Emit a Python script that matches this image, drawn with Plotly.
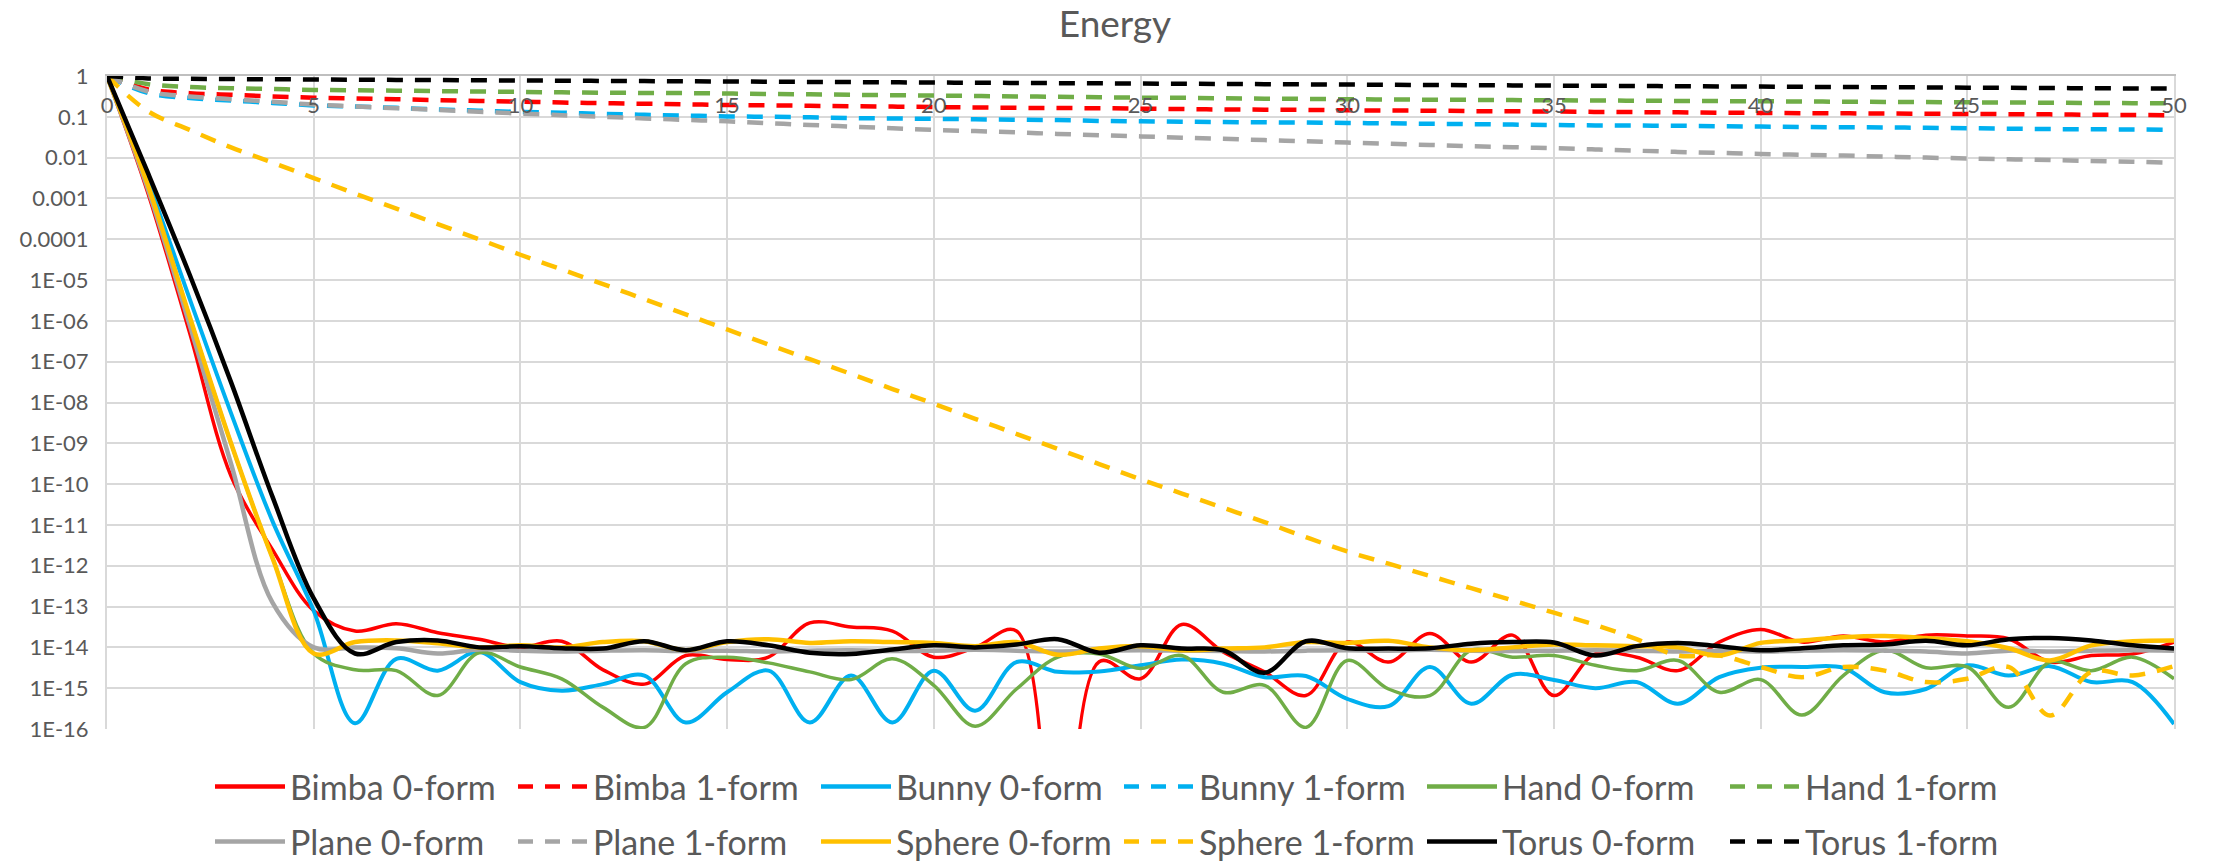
import plotly.graph_objects as go

# Iteration index
iterations = list(range(51))

# log10(Energy), per iteration 0..50
bimba_0form = [0, -2.9, -6.3, -9.8, -11.6, -13.1, -13.6, -13.42, -13.64, -13.8,
               -14.0, -13.85, -14.55, -14.9, -14.2, -14.3, -14.24, -13.4, -13.5, -13.6,
               -14.24, -14.0, -13.6, -40.0, -14.35, -14.77, -13.44, -14.11, -14.6, -15.18,
               -13.87, -14.36, -13.66, -14.36, -13.7, -15.18, -14.16, -14.24, -14.57, -13.87,
               -13.56, -13.87, -13.72, -13.87, -13.7, -13.72, -13.79, -14.36, -14.2, -14.16,
               -13.87]
bimba_1form = [0, -0.33, -0.42, -0.46, -0.5, -0.53, -0.55, -0.57, -0.59, -0.61,
               -0.63, -0.65, -0.665, -0.68, -0.695, -0.71, -0.72, -0.73, -0.74, -0.75,
               -0.76, -0.77, -0.78, -0.785, -0.79, -0.8, -0.81, -0.82, -0.825, -0.83,
               -0.84, -0.845, -0.85, -0.86, -0.865, -0.87, -0.88, -0.885, -0.89, -0.9,
               -0.905, -0.91, -0.915, -0.92, -0.925, -0.93, -0.935, -0.94, -0.95, -0.955,
               -0.96]
bunny_0form = [0, -2.6, -5.46, -8.26, -10.9, -13.1, -15.86, -14.28, -14.57, -14.11,
               -14.85, -15.06, -14.9, -14.69, -15.84, -15.1, -14.57, -15.84, -14.69, -15.84,
               -14.57, -15.55, -14.36, -14.6, -14.59, -14.44, -14.3, -14.4, -14.73, -14.7,
               -15.26, -15.44, -14.48, -15.38, -14.67, -14.8, -15.0, -14.85, -15.38, -14.73,
               -14.5, -14.48, -14.5, -15.1, -15.02, -14.44, -14.69, -14.46, -14.85, -14.85,
               -15.88]
bunny_1form = [0, -0.42, -0.54, -0.6, -0.66, -0.72, -0.75, -0.78, -0.82, -0.85,
               -0.88, -0.9, -0.93, -0.95, -0.97, -0.99, -1.0, -1.01, -1.03, -1.04,
               -1.05, -1.06, -1.07, -1.08, -1.1, -1.11, -1.12, -1.13, -1.135, -1.14,
               -1.15, -1.16, -1.17, -1.18, -1.19, -1.2, -1.21, -1.215, -1.22, -1.23,
               -1.24, -1.25, -1.255, -1.26, -1.27, -1.28, -1.29, -1.3, -1.305, -1.31,
               -1.32]
hand_0form = [0, -2.7, -5.9, -9.0, -11.8, -14.15, -14.55, -14.57, -15.18, -14.13,
              -14.48, -14.77, -15.47, -15.96, -14.4, -14.24, -14.38, -14.6, -14.79, -14.28,
              -14.93, -15.93, -15.02, -14.24, -14.16, -14.52, -14.2, -15.1, -14.93, -15.96,
              -14.32, -15.02, -15.18, -14.07, -14.24, -14.2, -14.44, -14.57, -14.32, -15.1,
              -14.79, -15.66, -14.69, -14.07, -14.5, -14.48, -15.47, -14.36, -14.57, -14.24,
              -14.77]
hand_1form = [0, -0.2, -0.27, -0.3, -0.32, -0.34, -0.35, -0.36, -0.37, -0.38,
              -0.39, -0.4, -0.41, -0.415, -0.42, -0.43, -0.44, -0.45, -0.46, -0.47,
              -0.48, -0.49, -0.5, -0.51, -0.52, -0.53, -0.535, -0.545, -0.555, -0.56,
              -0.57, -0.575, -0.58, -0.585, -0.59, -0.595, -0.6, -0.605, -0.61, -0.615,
              -0.62, -0.625, -0.63, -0.635, -0.64, -0.645, -0.65, -0.655, -0.66, -0.665,
              -0.67]
plane_0form = [0, -2.8, -6.1, -9.5, -12.9, -14.0, -14.0, -14.02, -14.15, -14.05,
               -14.08, -14.1, -14.08, -14.07, -14.09, -14.08, -14.1, -14.08, -14.07, -14.09,
               -14.08, -14.06, -14.08, -14.1, -14.08, -14.07, -14.08, -14.09, -14.1, -14.08,
               -14.07, -14.08, -14.06, -14.08, -14.09, -14.08, -14.07, -14.08, -14.1, -14.08,
               -14.1, -14.08, -14.07, -14.08, -14.1, -14.15, -14.08, -14.1, -14.08, -14.07,
               -14.08]
plane_1form = [0, -0.38, -0.5, -0.57, -0.63, -0.7, -0.745, -0.79, -0.83, -0.875,
               -0.92, -0.96, -1.0, -1.04, -1.075, -1.11, -1.155, -1.2, -1.24, -1.28,
               -1.32, -1.35, -1.38, -1.42, -1.45, -1.48, -1.51, -1.54, -1.57, -1.6,
               -1.63, -1.66, -1.69, -1.72, -1.745, -1.77, -1.8, -1.83, -1.86, -1.885,
               -1.91, -1.93, -1.95, -1.975, -2.0, -2.02, -2.04, -2.06, -2.08, -2.1,
               -2.13]
sphere_0form = [0, -2.7, -5.9, -9.0, -11.8, -14.15, -13.87, -13.83, -13.9, -14.0,
                -13.95, -14.0, -13.87, -13.85, -14.07, -13.87, -13.8, -13.89, -13.85, -13.87,
                -13.89, -13.97, -13.87, -14.18, -14.03, -13.97, -14.07, -14.03, -14.0, -13.87,
                -13.89, -13.84, -14.0, -14.07, -14.0, -13.93, -13.95, -13.97, -14.0, -14.2,
                -13.89, -13.83, -13.75, -13.72, -13.77, -13.85, -14.02, -14.32, -13.95, -13.85,
                -13.83]
sphere_1form = [0, -0.87, -1.32, -1.75, -2.12, -2.5, -2.88, -3.25, -3.63, -4.0,
                -4.38, -4.74, -5.1, -5.47, -5.84, -6.21, -6.58, -6.94, -7.3, -7.67,
                -8.03, -8.4, -8.77, -9.14, -9.51, -9.88, -10.23, -10.58, -10.93, -11.3,
                -11.65, -11.95, -12.25, -12.55, -12.85, -13.15, -13.45, -13.8, -14.2, -14.2,
                -14.48, -14.73, -14.48, -14.57, -14.85, -14.77, -14.48, -15.67, -14.6, -14.69,
                -14.46]
torus_0form = [0, -2.4, -4.87, -7.5, -10.3, -12.8, -14.15, -13.87, -13.83, -14.0,
               -13.97, -14.02, -14.03, -13.85, -14.07, -13.85, -13.95, -14.13, -14.16, -14.05,
               -13.95, -14.0, -13.93, -13.8, -14.13, -13.95, -14.03, -14.07, -14.62, -13.85,
               -14.02, -14.03, -14.02, -13.91, -13.87, -13.88, -14.2, -13.97, -13.89, -13.97,
               -14.07, -14.02, -13.95, -13.93, -13.84, -13.95, -13.8, -13.77, -13.83, -13.95,
               -14.03]
torus_1form = [0, -0.06, -0.07, -0.075, -0.08, -0.085, -0.09, -0.095, -0.1, -0.105,
               -0.11, -0.115, -0.12, -0.125, -0.13, -0.135, -0.14, -0.145, -0.15, -0.155,
               -0.16, -0.165, -0.17, -0.175, -0.18, -0.185, -0.19, -0.195, -0.2, -0.205,
               -0.21, -0.215, -0.22, -0.225, -0.23, -0.235, -0.24, -0.245, -0.25, -0.255,
               -0.26, -0.265, -0.27, -0.275, -0.28, -0.285, -0.29, -0.295, -0.3, -0.305,
               -0.31]

series_names = ["Bimba 0-form", "Bimba 1-form", "Bunny 0-form", "Bunny 1-form",
                "Hand 0-form", "Hand 1-form", "Plane 0-form", "Plane 1-form",
                "Sphere 0-form", "Sphere 1-form", "Torus 0-form", "Torus 1-form"]
series_data = [bimba_0form, bimba_1form, bunny_0form, bunny_1form,
               hand_0form, hand_1form, plane_0form, plane_1form,
               sphere_0form, sphere_1form, torus_0form, torus_1form]

y_tick_values = [1, 0.1, 0.01, 0.001, 0.0001, 1e-5, 1e-6, 1e-7, 1e-8, 1e-9,
                 1e-10, 1e-11, 1e-12, 1e-13, 1e-14, 1e-15, 1e-16]
y_tick_labels = ["1", "0.1", "0.01", "0.001", "0.0001", "1E-05", "1E-06", "1E-07",
                 "1E-08", "1E-09", "1E-10", "1E-11", "1E-12", "1E-13", "1E-14",
                 "1E-15", "1E-16"]

# styles
colors = {"Bimba": "#FF0000", "Bunny": "#00B0F0", "Hand": "#70AD47",
          "Plane": "#A5A5A5", "Sphere": "#FFC000", "Torus": "#000000"}
widths0 = {"Bimba": 3.5, "Bunny": 4, "Hand": 3.5, "Plane": 4.5, "Sphere": 4.5, "Torus": 4.5}
DASH = "16px,12px"
LEGEND_DASH = "15px,12px"
TXT = "#595959"
FONT = "Lato"

fig = go.Figure()
# plotted series
for i, (name, logv) in enumerate(zip(series_names, series_data)):
    shape = name.split()[0]
    is_one = "1-form" in name
    fig.add_trace(go.Scatter(
        x=iterations,
        y=[10 ** v for v in logv],
        mode="lines",
        name=name,
        showlegend=False,
        line=dict(color=colors[shape], width=4.5 if is_one else widths0[shape],
                  dash=DASH if is_one else "solid", shape="spline", smoothing=1),
    ))
# legend entries (short dash pattern in the legend key, like the original)
for i, name in enumerate(series_names):
    shape = name.split()[0]
    is_one = "1-form" in name
    fig.add_trace(go.Scatter(
        x=[None], y=[None], mode="lines", name=name,
        legend="legend" if i < 6 else "legend2",
        line=dict(color=colors[shape], width=4.5,
                  dash=LEGEND_DASH if is_one else "solid"),
        hoverinfo="skip",
    ))

W, H = 2214, 865
L, R, T, B = 107, 40, 76, 136
plot_h = H - T - B

legend_common = dict(
    orientation="h",
    xanchor="left",
    itemwidth=70,
    entrywidth=218, entrywidthmode="pixels",
    font=dict(family=FONT, size=34, color=TXT),
    bgcolor="rgba(0,0,0,0)", borderwidth=0,
    tracegroupgap=0,
)

fig.update_layout(
    width=W, height=H,
    margin=dict(l=L, r=R, t=T, b=B, pad=0, autoexpand=False),
    paper_bgcolor="white", plot_bgcolor="white",
    font=dict(family=FONT, color=TXT),
    title=dict(text="Energy", x=1115 / W, xanchor="center", xref="container",
               y=1 - 24 / H, yanchor="middle", yref="container",
               font=dict(family=FONT, size=37, color=TXT)),
    showlegend=True,
    legend=dict(x=210 / W, xref="container", y=1 - 787 / H, yref="container",
                yanchor="middle", **legend_common),
    legend2=dict(x=210 / W, xref="container", y=-(871 - (H - B)) / plot_h, yref="paper",
                 yanchor="bottom", **legend_common),
    xaxis=dict(
        range=[0, 50], tick0=0, dtick=5, side="top",
        ticklabelposition="inside", ticklabeloverflow="allow",
        ticks="", ticklabelstandoff=23,
        showgrid=True, gridcolor="#D9D9D9", gridwidth=2,
        showline=True, linecolor="#BFBFBF", linewidth=2,
        zeroline=False,
        tickfont=dict(family=FONT, size=22, color=TXT),
    ),
    yaxis=dict(
        type="log", range=[-16, 0],
        tickmode="array", tickvals=y_tick_values, ticktext=y_tick_labels,
        ticks="", ticklabelstandoff=12,
        showgrid=True, gridcolor="#D9D9D9", gridwidth=2,
        showline=True, linecolor="#D9D9D9", linewidth=2, mirror=True,
        zeroline=False,
        tickfont=dict(family=FONT, size=22, color=TXT),
    ),
)

fig.write_html("out.html")
